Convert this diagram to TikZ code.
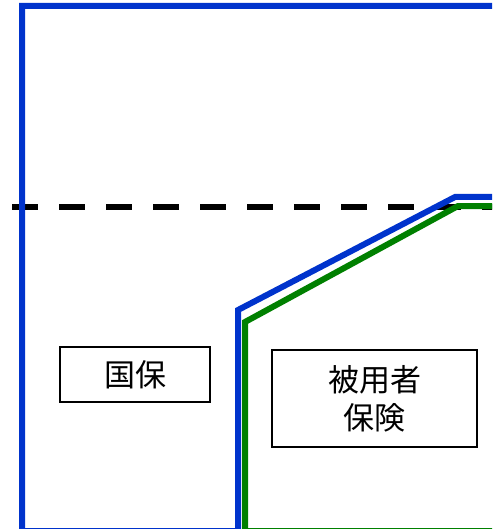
\documentclass[tikz,border=0pt]{standalone}
\usepackage{fontspec}
\setmainfont{Noto Sans CJK JP}
\usepackage{tikz}
\usetikzlibrary{positioning}

\definecolor{kokuhoblue}{RGB}{0,51,204}
\definecolor{hiyougreen}{RGB}{0,128,0}
\tikzset{
  seido/.style={draw=black, line width=2pt, fill=white, align=center,
    font=\fontsize{31}{38}\selectfont, inner sep=0pt},
  waku/.style={line width=6pt, line join=miter}
}

\begin{document}
\begin{tikzpicture}[x=1pt,y=-1pt]
      \useasboundingbox (0,0) rectangle (492,529);
      \clip (0,0) rectangle (492,529);
      \draw[line width=6pt, dash pattern=on 26pt off 21pt] (12,207) -- (495,207);
      \draw[waku, kokuhoblue] (495,197) -- (455,197) -- (238,310) -- (238,531)
        -- (22,531) -- (22,6) -- (495,6);
      \draw[waku, hiyougreen] (495,206) -- (458,206) -- (245,322) -- (245,531) -- (495,531);
      \node[seido, minimum width=150pt, minimum height=55pt] (kokuho) at (135,374.5) {国保};
      \node[seido, minimum width=205pt, minimum height=97pt] (hiyou) at (374.5,398.5) {被用者\\保険};
    \end{tikzpicture}
\end{document}
